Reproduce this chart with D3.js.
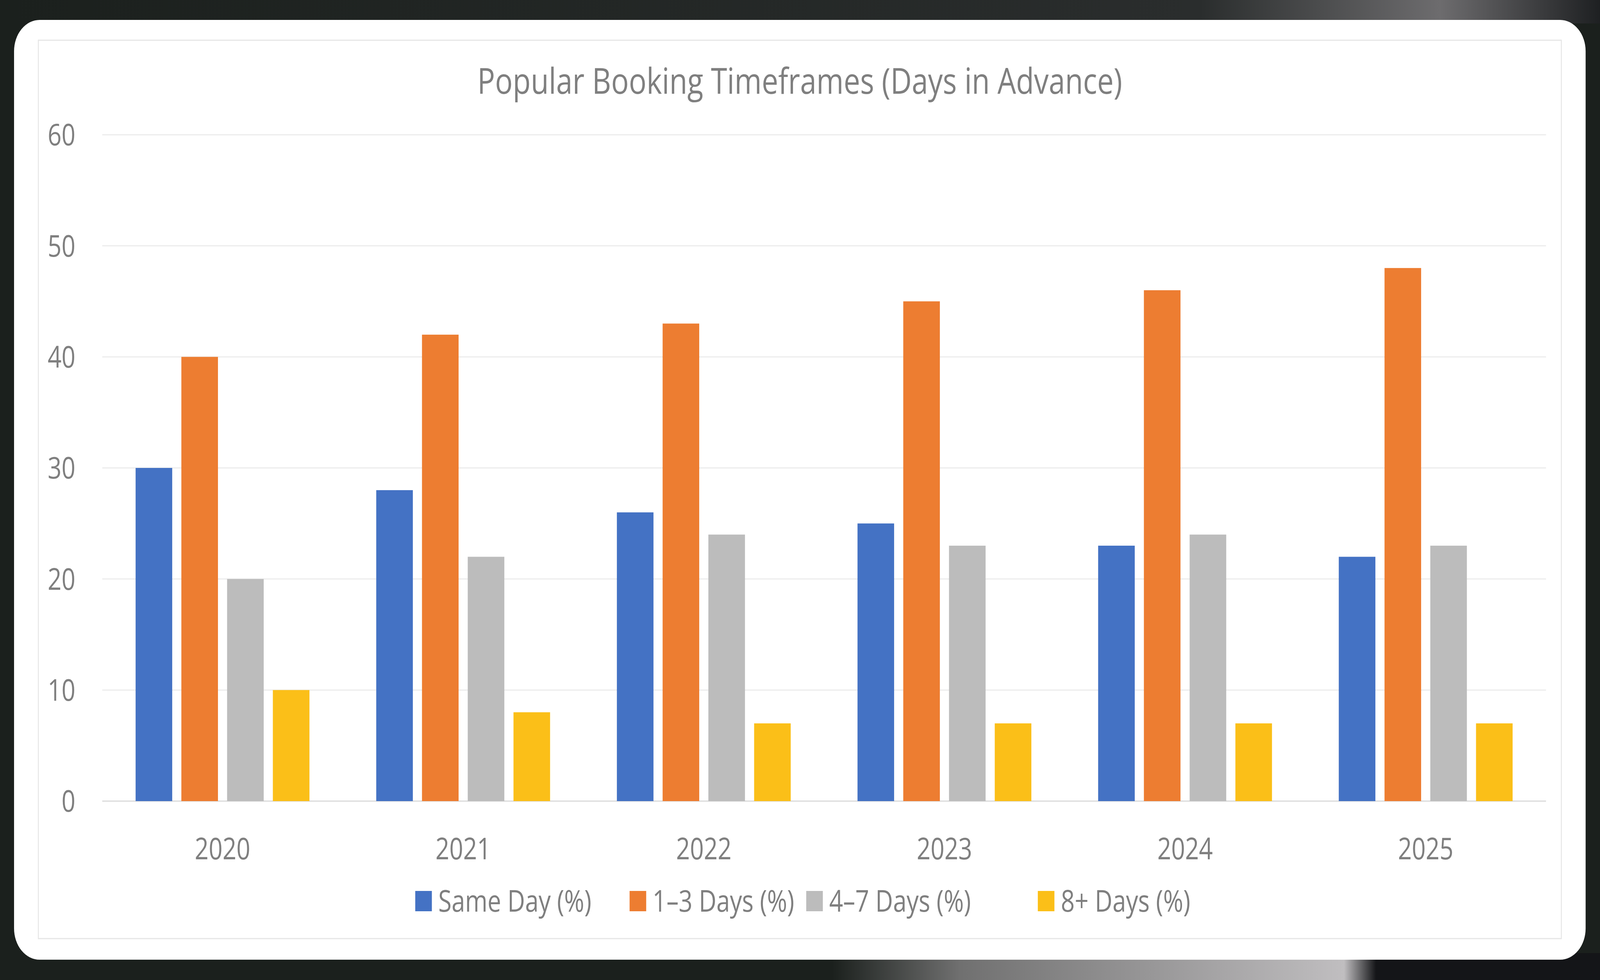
<!DOCTYPE html>
<html>
<head>
<meta charset="utf-8">
<script src="https://cdn.jsdelivr.net/npm/d3@7"></script>
<style>
  html, body { margin: 0; padding: 0; overflow: hidden; background: #1b201d; }
  svg { display: block; width: 100vw; height: 100vh; }
  text { font-family: "Open Sans", "Noto Sans", sans-serif; fill: #7f7f7f; }
</style>
</head>
<body>
<svg id="chart" viewBox="0 0 5009 2509" preserveAspectRatio="none"></svg>
<script>
// data
const years = ['2020', '2021', '2022', '2023', '2024', '2025'];
const seriesNames = ['Same Day (%)', '1\u20133 Days (%)', '4\u20137 Days (%)', '8+ Days (%)'];
const sameDay = [30, 28, 26, 25, 23, 22];
const oneToThree = [40, 42, 43, 45, 46, 48];
const fourToSeven = [20, 22, 24, 23, 24, 23];
const eightPlus = [10, 8, 7, 7, 7, 7];
const yTicks = [0, 10, 20, 30, 40, 50, 60];

const colors = ['#4472c4', '#ed7d31', '#bcbcbc', '#fbbf18'];
const values = [sameDay, oneToThree, fourToSeven, eightPlus];

const svg = d3.select('#chart');

// backdrop
const defs = svg.append('defs');
const grad = defs.append('linearGradient').attr('id', 'bg').attr('x1', 0).attr('x2', 1);
grad.append('stop').attr('offset', '0').attr('stop-color', '#1b201d');
grad.append('stop').attr('offset', '0.75').attr('stop-color', '#2a2d2d');
grad.append('stop').attr('offset', '0.9').attr('stop-color', '#6d6c6e');
grad.append('stop').attr('offset', '1').attr('stop-color', '#1e2022');
svg.append('rect').attr('width', 5009).attr('height', 60).attr('fill', 'url(#bg)');
const grad2 = defs.append('linearGradient').attr('id', 'bg2').attr('x1', 0).attr('x2', 1);
grad2.append('stop').attr('offset', '0').attr('stop-color', '#1b201d');
grad2.append('stop').attr('offset', '0.52').attr('stop-color', '#1b201d');
grad2.append('stop').attr('offset', '0.6').attr('stop-color', '#707070');
grad2.append('stop').attr('offset', '0.84').attr('stop-color', '#c0bec0');
grad2.append('stop').attr('offset', '0.86').attr('stop-color', '#141518');
grad2.append('stop').attr('offset', '1').attr('stop-color', '#141518');
svg.append('rect').attr('y', 2440).attr('width', 5009).attr('height', 69).attr('fill', 'url(#bg2)');

// card
svg.append('rect').attr('x', 44).attr('y', 51).attr('width', 4920).attr('height', 2406)
  .attr('rx', 80).attr('fill', '#ffffff');
svg.append('rect').attr('x', 120).attr('y', 103).attr('width', 4768).attr('height', 2300)
  .attr('fill', 'none').attr('stroke', '#e6e6e6').attr('stroke-width', 3);

const margin = { left: 320, right: 4840, top: 345, bottom: 2051 };

const x0 = d3.scaleBand().domain(years).range([margin.left, margin.right]);
const x1 = d3.scaleBand().domain(d3.range(4))
  .range([0, x0.bandwidth()]).paddingInner(0.2).paddingOuter(0.73);
const y = d3.scaleLinear().domain([0, 60]).range([margin.bottom, margin.top]);

// gridlines
svg.append('g').selectAll('line').data(yTicks).join('line')
  .attr('x1', margin.left).attr('x2', margin.right)
  .attr('y1', d => y(d)).attr('y2', d => y(d))
  .attr('stroke', d => d === 0 ? '#d9d9d9' : '#ececec').attr('stroke-width', 3);

// y labels
svg.append('g').selectAll('text').data(yTicks).join('text')
  .attr('x', 236).attr('y', d => y(d)).attr('dy', '0.36em')
  .attr('text-anchor', 'end').attr('font-size', 76).text(d => d);

// bars
const groups = svg.append('g').selectAll('g').data(years).join('g')
  .attr('transform', d => `translate(${x0(d)},0)`);
groups.selectAll('rect').data((d, i) => values.map((v, s) => ({ s, v: v[i] }))).join('rect')
  .attr('x', d => x1(d.s)).attr('width', x1.bandwidth())
  .attr('y', d => y(d.v)).attr('height', d => y(0) - y(d.v))
  .attr('fill', d => colors[d.s]);

// x labels
svg.append('g').selectAll('text').data(years).join('text')
  .attr('x', d => x0(d) + x0.bandwidth() / 2).attr('y', 2200)
  .attr('text-anchor', 'middle').attr('font-size', 76).text(d => d);

// title
svg.append('text').attr('x', 2504).attr('y', 240).attr('text-anchor', 'middle')
  .attr('font-size', 92).text('Popular Booking Timeframes (Days in Advance)');

// legend
const legendX = [1300, 1971, 2524, 3249];
const legend = svg.append('g').selectAll('g').data(seriesNames).join('g')
  .attr('transform', (d, i) => `translate(${legendX[i]},2307)`);
legend.append('rect').attr('x', 0).attr('y', -26).attr('width', 52).attr('height', 52)
  .attr('fill', (d, i) => colors[i]);
legend.append('text').attr('x', 72).attr('dy', '0.36em').attr('font-size', 76).text(d => d);
</script>
</body>
</html>
